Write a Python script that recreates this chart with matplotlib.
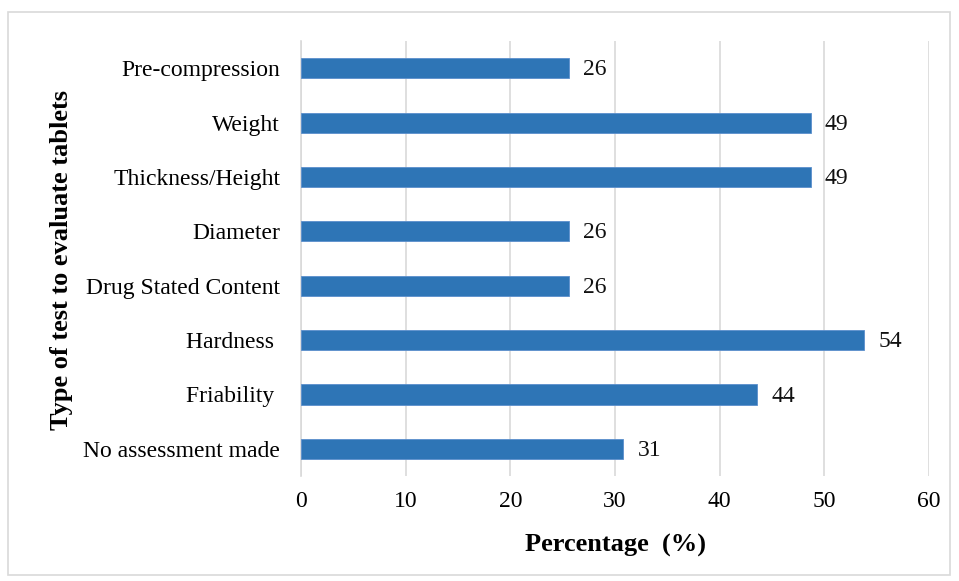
import matplotlib.pyplot as plt
from matplotlib.patches import Rectangle

plt.rcParams['font.family'] = ['Liberation Serif', 'DejaVu Serif']

tests = ['Pre-compression', 'Weight', 'Thickness/Height', 'Diameter',
         'Drug Stated Content', 'Hardness ', 'Friability ', 'No assessment made']
values = [25.6, 48.7, 48.7, 25.6, 25.6, 53.8, 43.6, 30.8]
labels = ['26', '49', '49', '26', '26', '54', '44', '31']

fig = plt.figure(figsize=(9.59, 5.81), dpi=100)
ax = fig.add_axes([0.3139, 0.1807, 0.6548, 0.7487])

pos = list(range(len(tests)))
ax.barh(pos, values, height=0.37, color='#2E75B6', edgecolor='#5B8FCC', linewidth=0.6, zorder=3)
for p, v, t in zip(pos, values, labels):
    ax.text(v + 1.35, p + 0.03, t, va='center', ha='left', fontsize=17, color='#111111')

ax.set_ylim(len(tests) - 0.5, -0.5)
ax.set_yticks(pos)
ax.set_yticklabels(tests, fontsize=17)
ax.set_xlim(0, 60)
ax.set_xticks(range(0, 61, 10))
ax.tick_params(axis='x', labelsize=17, length=0, pad=11)
ax.tick_params(axis='y', length=0, pad=15)
ax.grid(axis='x', color='#d9d9d9', linewidth=1.2, zorder=0)
for s in ['top', 'right', 'bottom']:
    ax.spines[s].set_visible(False)
ax.spines['left'].set_color('#d9d9d9')
ax.spines['left'].set_linewidth(1.2)

ax.set_xlabel('Percentage  (%)', fontsize=19, fontweight='bold', va='center')
ax.xaxis.set_label_coords(0.5, -0.159)
ax.set_ylabel('Type of test to evaluate tablets', fontsize=19, fontweight='bold', va='center')
ax.yaxis.set_label_coords(-0.381, 0.497)

fig.patches.append(Rectangle((8 / 959, 6 / 581), 942 / 959, 563 / 581, transform=fig.transFigure,
                             fill=False, edgecolor='#d9d9d9', linewidth=1.2))

fig.savefig('out.png', dpi=100)
